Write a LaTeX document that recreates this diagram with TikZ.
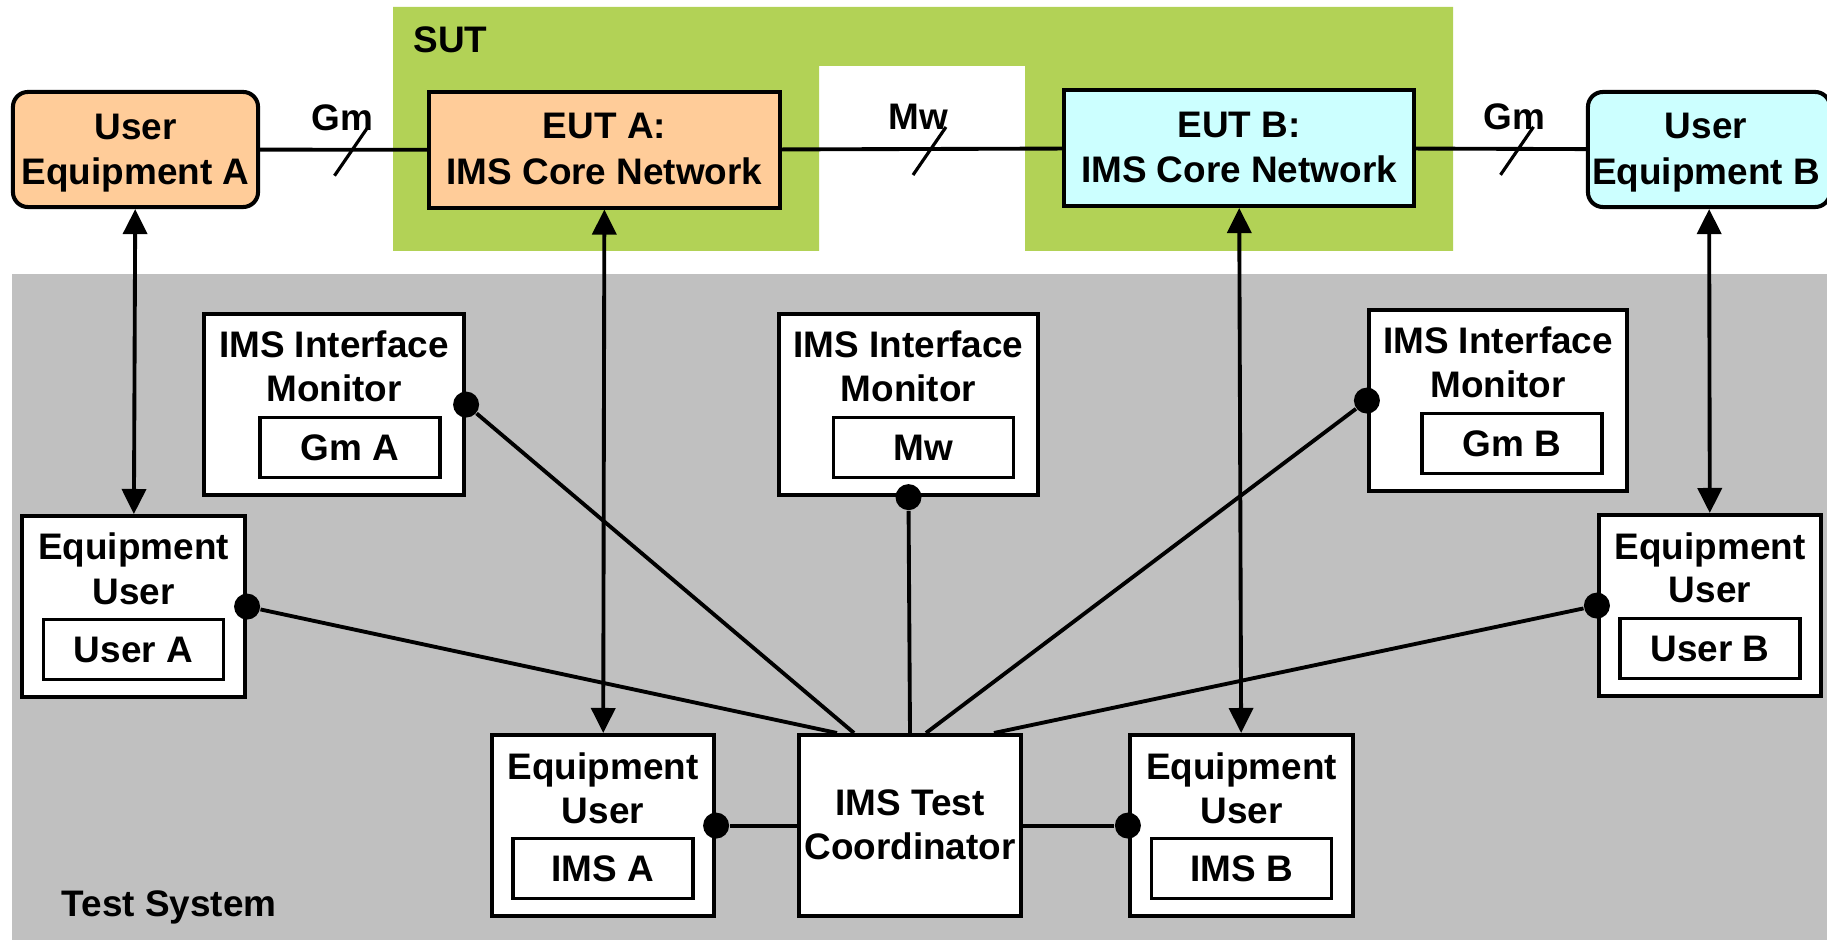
\documentclass[tikz,border=0pt]{standalone}
\usepackage{fontspec}
\setmainfont{Liberation Sans}
\usetikzlibrary{calc,arrows.meta}
\definecolor{sutgreen}{HTML}{B2D256}
\definecolor{tsgray}{HTML}{C0C0C0}
\definecolor{eutorange}{HTML}{FFCC99}
\definecolor{eutcyan}{HTML}{CCFFFF}

% boxed test-system component: name, centre x, top y, width, line 1, line 2, inner label, inner x offset
\newcommand\unitbox[8]{%
  \node[outerbox, minimum width=#4, anchor=north] (#1) at (#2,#3) {};
  \node[lbl] (#1-a) at (#2,#3+46) {#5};
  \node[lbl] (#1-b) at (#2,#3+90) {#6};
  \node[innerbox, anchor=north] (#1-in) at (#2+#8,#3+104) {#7};
}

\begin{document}
\begin{tikzpicture}[x=0.01cm, y=-0.01cm,
  font=\fontsize{10.5}{12.5}\selectfont\bfseries,
  outerbox/.style={draw, line width=1.15pt, fill=white, inner sep=0pt, minimum height=1.81cm},
  innerbox/.style={draw, line width=0.9pt, fill=white, inner sep=0pt, minimum width=1.8cm, minimum height=0.6cm, text depth=0pt},
  lbl/.style={inner sep=0pt, anchor=base},
  dot/.style={circle, fill=black, inner sep=0pt, minimum size=0.26cm},
  link/.style={line width=1.1pt},
  slash/.style={line width=0.9pt},
  biarrow/.style={line width=1.1pt, {Triangle[length=2.5mm,width=2.4mm]}-{Triangle[length=2.5mm,width=2.4mm]}},
  ue/.style={draw, line width=1.15pt, rounded corners=0.15cm, minimum height=1.15cm, inner sep=0pt},
  eut/.style={draw, line width=1.15pt, minimum height=1.15cm, inner sep=0pt}]

\useasboundingbox (0,0) rectangle (1827,940);

% test system area
\fill[tsgray] (12,274) rectangle (1827,940);
\node[lbl, anchor=base west] (tslabel) at (61,916) {Test System};

% system under test area
\fill[sutgreen] (393,7) -- (1453,7) -- (1453,251) -- (1025,251) -- (1025,66)
  -- (819,66) -- (819,251) -- (393,251) -- cycle;
\node[lbl, anchor=base west] (sutlabel) at (413,53) {SUT};

% equipment under test and user equipment
\node[ue, fill=eutorange, minimum width=2.45cm] (uea) at (135.5,149.5) {};
\node[lbl] (uea-a) at (135.5,140) {User};
\node[lbl] (uea-b) at (135.5,185) {Equipment A};

\node[eut, fill=eutorange, minimum width=3.51cm] (euta) at (604.5,150) {};
\node[lbl] (euta-a) at (604.5,139) {EUT A:};
\node[lbl] (euta-b) at (604.5,185) {IMS Core Network};

\node[eut, fill=eutcyan, minimum width=3.50cm, minimum height=1.16cm] (eutb) at (1239,148) {};
\node[lbl] (eutb-a) at (1239,138) {EUT B:};
\node[lbl] (eutb-b) at (1239,183) {IMS Core Network};

\node[ue, fill=eutcyan, minimum width=2.42cm] (ueb) at (1709,149.5) {};
\node[lbl] (ueb-a) at (1706,139) {User};
\node[lbl] (ueb-b) at (1706,185) {Equipment B};

% interfaces between SUT components
\draw[link] (uea) -- coordinate (gmA) (euta);
\draw[link] (euta) -- coordinate (mw) (eutb);
\draw[link] (eutb) -- coordinate[pos=0.55] (gmB) (ueb);
\foreach \m/\t/\dx in {gmA/Gm/-1, mw/Mw/-4, gmB/Gm/5} {
  \draw[slash] ($(\m)+(-9,26)$) -- ($(\m)+(24,-22)$);
  \node[lbl] (\m-t) at ($(\m)+(\dx,-19)$) {\t};
}

% interface monitors
\unitbox{mona}{334}{312}{2.60cm}{IMS Interface}{Monitor}{Gm A}{16}
\unitbox{monw}{908.5}{312}{2.59cm}{IMS Interface}{Monitor}{Mw}{15}
\unitbox{monb}{1498}{308}{2.58cm}{IMS Interface}{Monitor}{Gm B}{14}

% equipment users
\unitbox{equa}{133.5}{514}{2.23cm}{Equipment}{User}{User A}{0}
\unitbox{equb}{1710}{513}{2.22cm}{Equipment}{User}{User B}{0}
\unitbox{eqima}{603}{733}{2.22cm}{Equipment}{User}{IMS A}{0}
\unitbox{eqimb}{1241.5}{733}{2.23cm}{Equipment}{User}{IMS B}{0}

% test coordinator
\node[outerbox, minimum width=2.22cm, anchor=north] (tc) at (910,733) {};
\node[lbl] (tc-a) at (910,815) {IMS Test};
\node[lbl] (tc-b) at (910,859) {Coordinator};

% stimulus paths
\draw[biarrow] (uea) -- (equa);
\draw[biarrow] (euta) -- (eqima);
\draw[biarrow] (eutb) -- (eqimb);
\draw[biarrow] (ueb) -- (equb);

% coordination connections
\node[dot] (d-mona) at (mona.east) {};
\node[dot] (d-monw) at (monw.south) {};
\node[dot] (d-monb) at (monb.west) {};
\node[dot] (d-equa) at (equa.east) {};
\node[dot] (d-equb) at (equb.west) {};
\node[dot] (d-eqima) at (eqima.east) {};
\node[dot] (d-eqimb) at (eqimb.west) {};

\draw[link] (d-equa) -- ($(tc.north)+(-73,0)$);
\draw[link] (d-mona) -- ($(tc.north)+(-56,0)$);
\draw[link] (d-monw) -- (tc.north);
\draw[link] (d-monb) -- ($(tc.north)+(16,0)$);
\draw[link] (d-equb) -- ($(tc.north)+(84,0)$);
\draw[link] (d-eqima) -- (tc);
\draw[link] (d-eqimb) -- (tc);

\end{tikzpicture}
\end{document}
